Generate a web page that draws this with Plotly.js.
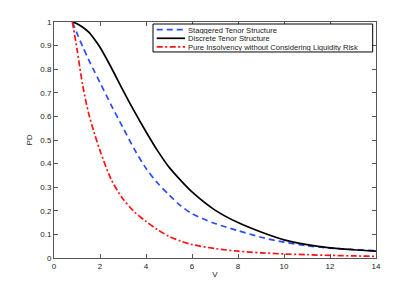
<!DOCTYPE html>
<html>
<head>
<meta charset="utf-8">
<script src="https://cdn.plot.ly/plotly-3.0.1.min.js"></script>
<style>html,body{margin:0;padding:0;background:#fff;}#chart{width:415px;height:291px;}</style>
</head>
<body>
<div id="chart"></div>
<script>
const V = [0.8, 1.0, 1.25, 1.5, 1.75, 2, 2.5, 3, 3.5, 4, 4.5, 5, 5.5, 6, 7, 8, 9, 10, 11, 12, 13, 14];
const staggered = [1.0, 0.952, 0.895, 0.842, 0.792, 0.743, 0.645, 0.552, 0.46, 0.38, 0.318, 0.268, 0.222, 0.188, 0.146, 0.116, 0.088, 0.067, 0.052, 0.042, 0.036, 0.031];
const discrete = [1.0, 0.993, 0.978, 0.958, 0.928, 0.893, 0.805, 0.71, 0.62, 0.535, 0.455, 0.385, 0.33, 0.28, 0.203, 0.15, 0.11, 0.077, 0.057, 0.043, 0.035, 0.029];
const pureInsolvency = [1.0, 0.885, 0.73, 0.615, 0.53, 0.455, 0.33, 0.25, 0.195, 0.155, 0.12, 0.092, 0.072, 0.057, 0.04, 0.029, 0.022, 0.017, 0.014, 0.011, 0.009, 0.007];
const names = ["Staggered Tenor Structure", "Discrete Tenor Structure", "Pure Insolvency without Considering Liquidity Risk"];
const colors = ["#2a4bff", "#000000", "#ff1010"];
const dashes = ["6px,4px", "solid", "6px,2.5px,2px,2.5px"];

const traces = [staggered, discrete, pureInsolvency].map((ys, i) => ({
  x: V, y: ys, name: names[i], mode: "lines", showlegend: false,
  line: {color: colors[i], width: 1.7, dash: dashes[i], shape: "spline", smoothing: 0.8}
}));

const FONT = "Liberation Sans, Arial, sans-serif";
const axisCommon = {
  showline: true, mirror: "ticks", linecolor: "#555", linewidth: 1,
  ticks: "inside", ticklen: 4, tickcolor: "#555",
  showgrid: false, zeroline: false,
  tickfont: {family: FONT, size: 8, color: "#222"}
};

// legend drawn in paper coordinates
const legBox = {x0: 0.3075, x1: 0.9897, y0: 0.873, y1: 0.9915};
const legRowsY = [0.968, 0.931, 0.8945];
const shapes = [{type: "rect", xref: "paper", yref: "paper", x0: legBox.x0, x1: legBox.x1, y0: legBox.y0, y1: legBox.y1,
  line: {color: "#000", width: 1}, fillcolor: "#fff", layer: "above"}];
const annotations = [];
names.forEach((n, i) => {
  shapes.push({type: "line", xref: "paper", yref: "paper", x0: 0.319, x1: 0.407, y0: legRowsY[i], y1: legRowsY[i],
    line: {color: colors[i], width: 1.7, dash: dashes[i]}, layer: "above"});
  annotations.push({xref: "paper", yref: "paper", x: 0.414, y: legRowsY[i], xanchor: "left", yanchor: "middle",
    text: n, showarrow: false, height: 8, borderpad: 0, font: {family: FONT, size: 7.6, color: "#222"}});
});

const layout = {
  width: 415, height: 291,
  margin: {l: 54, r: 39, t: 22, b: 33},
  paper_bgcolor: "#fff", plot_bgcolor: "#fff",
  showlegend: false,
  xaxis: Object.assign({}, axisCommon, {range: [0, 14], dtick: 2, tick0: 0,
    title: {text: "V", font: {family: FONT, size: 8, color: "#222"}, standoff: 1}}),
  yaxis: Object.assign({}, axisCommon, {range: [0, 1], dtick: 0.1, tick0: 0,
    title: {text: "PD", font: {family: FONT, size: 8, color: "#222"}, standoff: 6}}),
  shapes: shapes,
  annotations: annotations
};

Plotly.newPlot("chart", traces, layout, {displayModeBar: false, staticPlot: true});
</script>
</body>
</html>
